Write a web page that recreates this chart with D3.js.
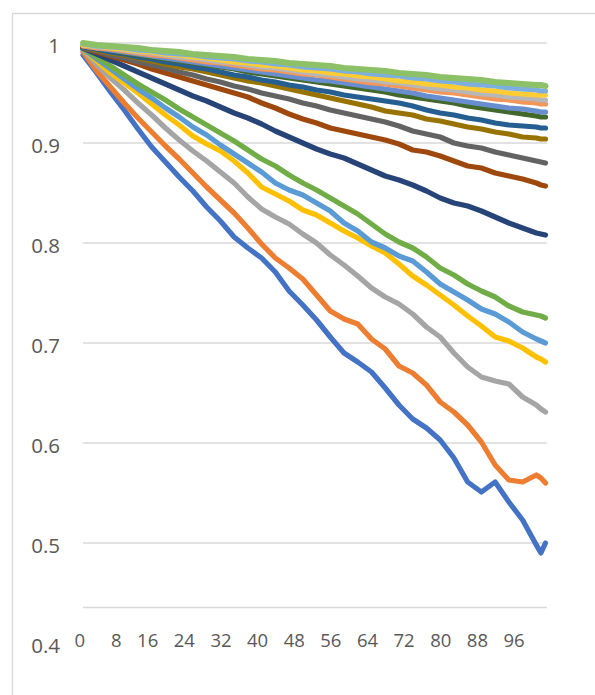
<!DOCTYPE html>
<html><head><meta charset="utf-8">
<script src="https://cdn.jsdelivr.net/npm/d3@7"></script>
<style>html,body{margin:0;padding:0;background:#fff}</style>
</head><body>
<svg id="c" width="595" height="695"></svg>
<script>
// ---------- data ----------
const steps = [0,3,6,9,12,15,18,21,24,27,30,33,36,39,42,45,48,51,54,57,60,63,66,69,72,75,78,81,84,87,90,93,96,99,100,101];
const xTicks = [0,8,16,24,32,40,48,56,64,72,80,88,96];
const yTicks = [0.4,0.5,0.6,0.7,0.8,0.9,1];
const gridValues = [0.5,0.6,0.7,0.8,0.9,1];
const colors = ["#4472C4","#ED7D31","#A5A5A5","#FFC000","#5B9BD5","#70AD47",
                "#264478","#9E480E","#636363","#997300","#255E91","#43682B",
                "#698ED0","#F1975A","#B7B7B7","#FFCD33","#7CAFDD","#8CC168"];

const s01 = [.988,.970,.951,.933,.914,.896,.881,.866,.852,.836,.822,.806,.795,.785,.771,.752,.738,.723,.706,.690,.681,.671,.655,.638,.624,.615,.603,.585,.561,.551,.561,.541,.523,.498,.490,.500];
const s02 = [.991,.972,.956,.940,.925,.911,.897,.884,.870,.856,.843,.830,.815,.799,.785,.775,.764,.748,.732,.724,.719,.704,.694,.677,.670,.658,.641,.631,.618,.601,.578,.563,.561,.568,.565,.560];
const s03 = [.993,.978,.965,.953,.940,.928,.915,.903,.892,.882,.871,.860,.846,.834,.826,.819,.809,.800,.788,.778,.767,.755,.746,.739,.729,.716,.706,.690,.676,.666,.662,.659,.646,.638,.634,.631];
const s04 = [.994,.982,.970,.960,.950,.939,.928,.918,.907,.899,.892,.882,.870,.856,.849,.842,.833,.828,.820,.812,.805,.797,.790,.779,.767,.758,.748,.738,.727,.717,.706,.702,.695,.686,.684,.681];
const s05 = [.994,.984,.974,.964,.954,.945,.935,.926,.916,.908,.898,.889,.880,.871,.860,.853,.848,.840,.832,.820,.812,.801,.795,.787,.782,.771,.759,.751,.743,.734,.729,.721,.711,.704,.702,.700];
const s06 = [.995,.986,.977,.968,.959,.951,.943,.934,.926,.918,.910,.902,.893,.884,.877,.868,.860,.853,.845,.837,.829,.819,.809,.801,.795,.786,.775,.768,.759,.752,.746,.737,.731,.728,.727,.725];
const s07 = [.995,.989,.983,.977,.971,.965,.959,.953,.947,.942,.936,.930,.925,.919,.912,.906,.900,.894,.889,.885,.879,.873,.867,.863,.858,.852,.845,.840,.837,.832,.826,.820,.815,.810,.809,.808];
const s08 = [.995,.991,.987,.983,.979,.974,.970,.966,.962,.958,.954,.950,.946,.940,.935,.929,.924,.920,.915,.912,.909,.906,.903,.899,.893,.891,.887,.882,.877,.875,.870,.867,.864,.860,.858,.857];
const s09 = [.995,.992,.988,.985,.981,.978,.975,.971,.968,.964,.961,.957,.954,.950,.947,.944,.940,.937,.933,.930,.927,.924,.921,.917,.912,.909,.906,.900,.897,.895,.891,.888,.885,.882,.881,.880];
const s10 = [.996,.993,.990,.988,.985,.982,.979,.976,.974,.971,.968,.965,.962,.960,.957,.954,.951,.948,.945,.942,.939,.936,.932,.930,.928,.924,.922,.919,.916,.914,.911,.909,.906,.905,.904,.904];
const s11 = [.996,.994,.991,.989,.986,.984,.981,.979,.976,.974,.971,.968,.966,.963,.961,.958,.956,.953,.951,.948,.946,.944,.942,.940,.937,.933,.930,.928,.925,.923,.920,.918,.917,.916,.915,.915];
const s12 = [.997,.995,.993,.990,.988,.986,.984,.982,.980,.978,.976,.974,.971,.969,.967,.965,.963,.961,.959,.957,.955,.953,.951,.948,.946,.944,.942,.940,.937,.935,.933,.931,.929,.927,.926,.926];
const s13 = [.997,.995,.993,.991,.989,.987,.985,.983,.981,.979,.977,.975,.973,.971,.969,.967,.965,.963,.962,.960,.958,.956,.954,.952,.950,.947,.945,.943,.941,.939,.937,.935,.934,.932,.931,.931];
const s14 = [.997,.995,.994,.992,.990,.988,.987,.985,.983,.981,.980,.978,.976,.974,.973,.971,.969,.968,.966,.964,.962,.960,.959,.957,.955,.953,.951,.950,.948,.946,.944,.943,.941,.940,.939,.939];
const s15 = [.998,.996,.995,.993,.991,.990,.988,.986,.985,.983,.981,.980,.978,.976,.975,.973,.971,.969,.968,.966,.964,.963,.961,.960,.958,.956,.954,.953,.951,.949,.948,.946,.945,.944,.943,.943];
const s16 = [.998,.997,.995,.994,.992,.991,.989,.988,.986,.985,.983,.981,.980,.978,.977,.975,.973,.972,.970,.969,.967,.966,.964,.962,.961,.959,.958,.956,.955,.953,.952,.950,.949,.948,.948,.948];
const s17 = [.999,.997,.996,.995,.993,.992,.990,.989,.988,.986,.985,.984,.982,.981,.979,.978,.976,.975,.974,.972,.971,.969,.968,.967,.965,.964,.962,.961,.959,.958,.957,.955,.954,.953,.952,.952];
const s18 = [1.000,.998,.997,.996,.995,.993,.992,.991,.989,.988,.987,.986,.984,.983,.982,.980,.979,.978,.977,.975,.974,.973,.972,.970,.969,.968,.966,.965,.964,.963,.961,.960,.959,.958,.958,.957];
const seriesValues = [s01,s02,s03,s04,s05,s06,s07,s08,s09,s10,s11,s12,s13,s14,s15,s16,s17,s18];

// ---------- drawing ----------
const svg = d3.select("#c");
const FONT = "'Open Sans', 'Noto Sans', sans-serif";
const TXT = "#595959", GRID = "#d9d9d9";

// chart frame (left and top edges)
svg.append("path").attr("d","M12.5,695V13.5H595")
  .attr("fill","none").attr("stroke",GRID).attr("stroke-width",1.3);

const x = d3.scaleLinear().domain([0,101]).range([83,545.5]);
const y = d3.scaleLinear().domain([0.4,1]).range([643,43]);

// gridlines
svg.append("g").selectAll("line").data(gridValues).join("line")
  .attr("x1",83).attr("x2",547)
  .attr("y1",d=>y(d)).attr("y2",d=>y(d))
  .attr("stroke",GRID).attr("stroke-width",1.6);

// horizontal axis line
svg.append("line").attr("x1",83).attr("x2",547).attr("y1",607.5).attr("y2",607.5)
  .attr("stroke",GRID).attr("stroke-width",1.6);

// y axis labels
const ya = svg.append("g").attr("transform","translate(60,0)")
  .call(d3.axisLeft(y).tickValues(yTicks).tickSize(0).tickPadding(0).tickFormat(d=>String(d)));
ya.select(".domain").remove();
ya.selectAll("text").attr("font-family",FONT).attr("font-size",20.5)
  .attr("fill",TXT).attr("dy",null).attr("y",9);

// x axis labels
const xa = svg.append("g").attr("transform","translate(0,607.5)")
  .call(d3.axisBottom(x).tickValues(xTicks).tickSize(0).tickPadding(0).tickFormat(d=>String(d)));
xa.select(".domain").remove();
xa.selectAll("text").attr("font-family",FONT).attr("font-size",18.5)
  .attr("fill",TXT).attr("text-anchor","end").attr("dy",null).attr("x",1.5).attr("y",39.5);

// series lines
const line = d3.line().x((d,i)=>x(steps[i])).y(d=>y(d));
svg.append("g").selectAll("path").data(seriesValues).join("path")
  .attr("d",line)
  .attr("fill","none")
  .attr("stroke",(d,i)=>colors[i])
  .attr("stroke-width",(d,i)=>i===17?6:5.2)
  .attr("stroke-linejoin","round")
  .attr("stroke-linecap","round");
</script>
</body></html>
